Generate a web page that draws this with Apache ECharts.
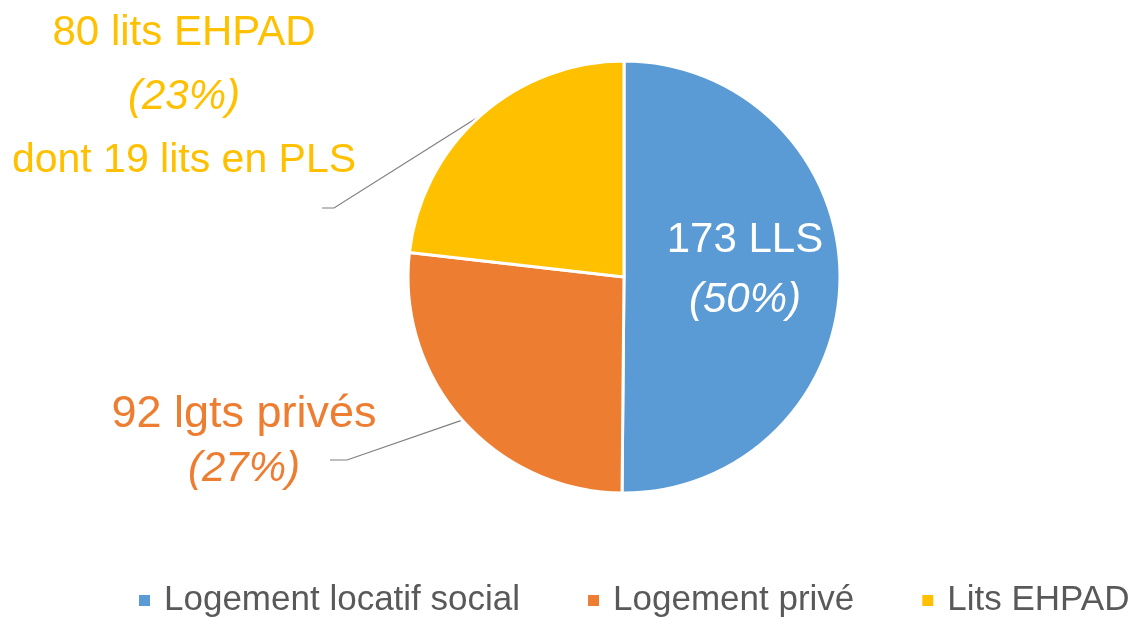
<!DOCTYPE html>
<html>
<head>
<meta charset="utf-8">
<script src="https://cdn.jsdelivr.net/npm/echarts@6/dist/echarts.min.js"></script>
<style>
html,body{margin:0;padding:0;background:#fff;}
#chart{width:1140px;height:619px;}
</style>
</head>
<body>
<div id="chart"></div>
<script>
// ---- data ----
const categories = ['Logement locatif social', 'Logement privé', 'Lits EHPAD'];
const values = [173, 92, 80];
const shortLabels = ['LLS', 'lgts privés', 'lits EHPAD'];
const notes = ['', '', 'dont 19 lits en PLS'];
const colors = ['#5B9BD5', '#ED7D31', '#FFC000'];

// ---- layout (label block centres and leader-line offsets, pixels) ----
const labelPos = [
  { x: 745, y: 270 },
  { x: 244, y: 442 },
  { x: 184, y: 97 }
];
const lineEnd = [null, { ex: 86, ey: 18, bx: 103 }, { ex: 138, ey: 111, bx: 150 }];
const labelColors = ['#ffffff', '#ED7D31', '#FFC000'];
const firstSize = [42, 45, 42];
const lineH = [60, 54, 64];

const total = values.reduce((a, b) => a + b, 0);

const data = categories.map((name, i) => {
  const pct = Math.round(values[i] / total * 100);
  let text = '{a|' + values[i] + ' ' + shortLabels[i] + '}\n{b|(' + pct + '%)}';
  if (notes[i]) text += '\n{c|' + notes[i] + '}';
  return {
    name: name,
    value: values[i],
    itemStyle: { color: colors[i] },
    label: {
      position: i === 0 ? 'inside' : 'outside',
      formatter: text,
      rich: {
        a: { fontSize: firstSize[i], color: labelColors[i], fontFamily: 'Liberation Sans', lineHeight: lineH[i] },
        b: { fontSize: 42, color: labelColors[i], fontStyle: 'italic', fontFamily: 'Liberation Sans', lineHeight: lineH[i] },
        c: { fontSize: 41, color: labelColors[i], fontFamily: 'Liberation Sans', lineHeight: lineH[i] }
      }
    },
    labelLine: { show: i !== 0 }
  };
});

const chart = echarts.init(document.getElementById('chart'), null, { renderer: 'canvas' });
chart.setOption({
  animation: false,
  backgroundColor: '#ffffff',
  legend: {
    data: categories,
    left: 132,
    top: 578,
    icon: 'rect',
    itemWidth: 13,
    itemHeight: 13,
    itemGap: 66,
    textStyle: { fontSize: 35, color: '#595959', fontFamily: 'Liberation Sans', padding: [0, 0, 0, 8] }
  },
  series: [{
    type: 'pie',
    center: [624, 277],
    radius: [0, 216],
    startAngle: 90,
    clockwise: true,
    avoidLabelOverlap: false,
    itemStyle: { borderColor: '#ffffff', borderWidth: 3 },
    labelLine: { lineStyle: { color: '#7f7f7f', width: 1.2 }, length: 20, length2: 20, smooth: false },
    emphasis: { disabled: true },
    data: data,
    labelLayout: function (params) {
      const i = params.dataIndex;
      const p = labelPos[i];
      const res = { x: p.x, y: p.y, align: 'center', verticalAlign: 'middle' };
      const le = lineEnd[i];
      if (le && params.labelLinePoints) {
        const anchor = params.labelLinePoints[0];
        res.labelLinePoints = [
          anchor,
          [p.x + le.bx, p.y + le.ey],
          [p.x + le.ex, p.y + le.ey]
        ];
      }
      return res;
    }
  }]
});
</script>
</body>
</html>
